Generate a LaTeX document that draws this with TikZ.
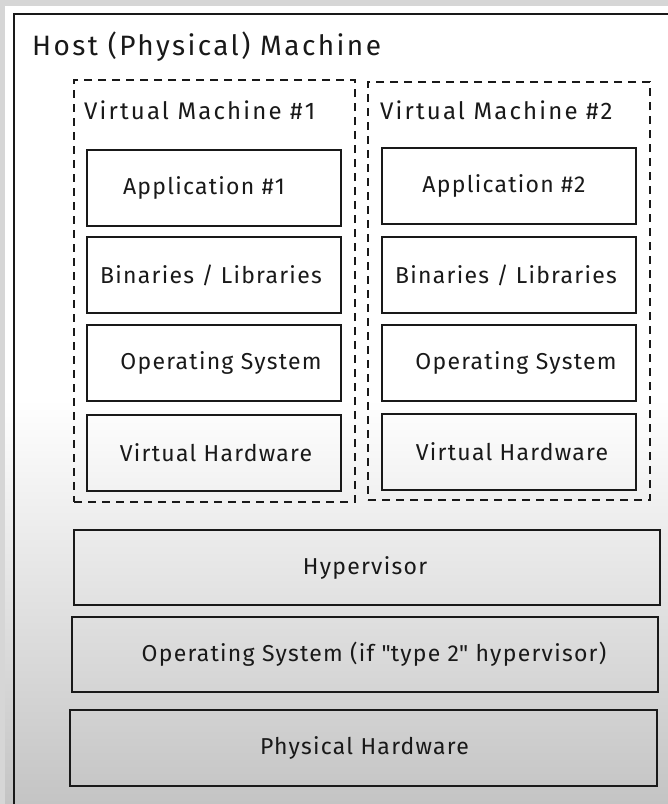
\documentclass[tikz,border=0pt]{standalone}
\usepackage{fontspec}
\setmainfont{Fira Sans}
\definecolor{bgbot}{RGB}{196,196,196}
\definecolor{strip}{RGB}{214,214,214}
\definecolor{ink}{RGB}{25,25,25}
\newcommand\txtshift[1]{\hspace*{#1}}
\begin{document}
\begin{tikzpicture}[x=1pt,y=-1pt,
  layer/.style={draw=ink,line width=1.6pt,rectangle,inner sep=0pt,
    font=\fontsize{23}{27}\selectfont\addfontfeature{LetterSpace=5.5},text=ink},
  vmbox/.style={draw=ink,line width=1.4pt,dash pattern=on 8pt off 6pt,rectangle,inner sep=0pt},
  vmtitle/.style={anchor=west,inner sep=0pt,font=\fontsize{24}{28}\selectfont\addfontfeature{LetterSpace=9},text=ink},
  hosttitle/.style={anchor=west,inner sep=0pt,font=\fontsize{28}{33}\selectfont\addfontfeature{LetterSpace=8.6},text=ink}]
\useasboundingbox (0,0) rectangle (668,804);
% background
\fill[white] (0,0) rectangle (668,400);
\shade[top color=white,bottom color=bgbot] (0,399) rectangle (668,804);
\fill[strip] (0,0) rectangle (668,6);
\fill[strip] (0,0) rectangle (5,804);
% host machine outline
\coordinate (hostbl) at (14,804);
\coordinate (hosttl) at (14,14);
\coordinate (hosttr) at (668,14);
\draw[ink,line width=1.8pt] (hostbl) -- (hosttl) -- (hosttr);
\node[hosttitle] (host) at (32,47) {Host (Physical) Machine};
% virtual machines
\node[vmbox,minimum width=281pt,minimum height=422pt] (vm1) at (214.5,291) {};
\node[vmbox,minimum width=282pt,minimum height=418pt] (vm2) at (509,291) {};
\node[vmtitle] (vm1t) at (84,110) {Virtual Machine \#1};
\node[vmtitle] (vm2t) at (380,110) {Virtual Machine \#2};
% VM1 layers
\node[layer,minimum width=254pt,minimum height=76pt] (app1) at (214,188) {\txtshift{-20pt}Application \#1};
\node[layer,minimum width=254pt,minimum height=76pt] (bin1) at (214,275) {\txtshift{-6pt}Binaries / Libraries};
\node[layer,minimum width=254pt,minimum height=76pt] (os1) at (214,363) {\txtshift{14pt}Operating System};
\node[layer,minimum width=254pt,minimum height=76pt] (hw1) at (214,453) {\txtshift{4pt}Virtual Hardware};
% VM2 layers
\node[layer,minimum width=254pt,minimum height=76pt] (app2) at (509,186) {\txtshift{-10pt}Application \#2};
\node[layer,minimum width=254pt,minimum height=76pt] (bin2) at (509,275) {\txtshift{-6pt}Binaries / Libraries};
\node[layer,minimum width=254pt,minimum height=76pt] (os2) at (509,363) {\txtshift{14pt}Operating System};
\node[layer,minimum width=254pt,minimum height=76pt] (hw2) at (509,452) {\txtshift{6pt}Virtual Hardware};
% host layers
\node[layer,minimum width=586pt,minimum height=75pt] (hyp) at (367,567.5) {\txtshift{-4pt}Hypervisor};
\node[layer,minimum width=586pt,minimum height=75pt] (hos) at (365,654.5) {\txtshift{18pt}Operating System (if \textquotedbl type 2\textquotedbl\ hypervisor)};
\node[layer,minimum width=587pt,minimum height=76pt] (phw) at (363.5,748) {\txtshift{2pt}Physical Hardware};
\end{tikzpicture}
\end{document}
